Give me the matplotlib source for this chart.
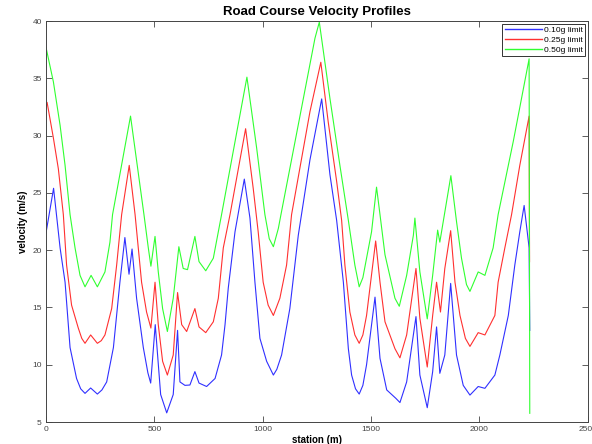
import matplotlib
matplotlib.use('Agg')
from matplotlib import pyplot as plt

plt.rcParams['font.family'] = ['Liberation Sans', 'DejaVu Sans']

# 0.10g limit
station_010 = [0, 35, 65, 88, 111, 141, 160, 180, 206, 237, 258, 280, 311, 341, 364, 383,
               397, 418, 449, 470, 483, 504, 529, 557, 587, 607, 618, 641, 664, 687, 706,
               741, 780, 810, 826, 841, 872, 915, 941, 964, 987, 1018, 1049, 1065, 1087,
               1125, 1164, 1218, 1272, 1310, 1341, 1372, 1395, 1410, 1428, 1445, 1462,
               1479, 1518, 1541, 1572, 1614, 1633, 1664, 1707, 1725, 1759, 1784, 1802,
               1817, 1840, 1867, 1894, 1925, 1956, 1994, 2025, 2071, 2094, 2133, 2163,
               2186, 2206, 2229, 2232]
vel_010 = [21.5, 25.4, 20.2, 17.2, 11.5, 8.8, 7.9, 7.5, 7.97, 7.44, 7.8, 8.5, 11.5, 17.2,
           21.1, 17.9, 20.1, 15.8, 11.5, 9.3, 8.4, 13.5, 7.4, 5.8, 7.4, 13.0, 8.5, 8.2,
           8.23, 9.4, 8.4, 8.1, 8.8, 10.85, 13.5, 16.7, 21.6, 26.2, 22.8, 17.2, 12.3, 10.3,
           9.1, 9.6, 10.85, 14.9, 21.3, 27.9, 33.2, 26.6, 22.6, 17.2, 11.4, 9.1, 7.9, 7.44,
           8.2, 10.0, 15.9, 10.56, 7.8, 7.07, 6.7, 8.5, 14.2, 9.1, 6.25, 9.4, 13.3, 9.25,
           10.85, 17.1, 10.85, 8.2, 7.35, 8.1, 7.94, 9.1, 10.85, 14.3, 18.7, 21.6, 23.9,
           20.2, 13.0]

# 0.25g limit
station_025 = [0, 5, 34, 57, 80, 95, 118, 149, 165, 180, 206, 237, 255, 272, 303, 326, 349,
               384, 411, 441, 464, 484, 503, 518, 538, 560, 587, 607, 626, 649, 687, 706,
               737, 772, 795, 818, 849, 921, 956, 979, 1002, 1025, 1049, 1079, 1110, 1133,
               1218, 1268, 1302, 1341, 1364, 1379, 1402, 1425, 1445, 1462, 1479, 1521,
               1541, 1564, 1610, 1633, 1664, 1707, 1725, 1759, 1784, 1802, 1820, 1840,
               1867, 1887, 1910, 1935, 1956, 1994, 2025, 2071, 2086, 2117, 2148, 2186,
               2229, 2231]
vel_025 = [32.6, 32.9, 29.8, 27.1, 23.1, 18.7, 15.2, 13.2, 12.3, 11.87, 12.6, 11.87, 12.1,
           12.6, 14.9, 18.7, 23.1, 27.4, 23.1, 17.2, 14.6, 13.2, 17.2, 13.5, 10.3, 9.1,
           10.85, 16.3, 13.5, 12.9, 14.9, 13.3, 12.8, 13.75, 15.8, 20.2, 23.1, 30.6, 25.4,
           21.6, 17.2, 15.2, 14.3, 15.8, 18.7, 23.1, 32.1, 36.4, 31.2, 26.0, 22.6, 18.7,
           14.6, 12.6, 11.87, 12.6, 14.3, 20.8, 17.2, 13.75, 11.4, 10.6, 12.6, 18.4, 14.05,
           9.8, 14.3, 17.2, 14.6, 18.4, 21.7, 17.2, 14.3, 12.3, 11.6, 12.8, 12.6, 14.3,
           17.2, 20.2, 23.1, 27.4, 31.7, 19.0]

# 0.50g limit
station_050 = [0, 34, 65, 88, 111, 134, 157, 180, 208, 237, 272, 295, 307, 390, 452,
               472, 484, 503, 518, 538, 560, 587, 613, 633, 653, 687, 706, 737, 772,
               795, 810, 927, 972, 1010, 1030, 1049, 1072, 1084, 1241, 1261, 1310, 1356,
               1395, 1425, 1445, 1462, 1479, 1502, 1525, 1541, 1564, 1610, 1630, 1664,
               1695, 1702, 1725, 1759, 1784, 1807, 1817, 1868, 1894, 1917, 1940, 1956,
               1994, 2025, 2063, 2086, 2156, 2229, 2232]
vel_050 = [37.7, 34.7, 30.9, 27.4, 23.1, 20.2, 17.8, 16.8, 17.8, 16.8, 18.1, 20.7, 23.1,
           31.7, 23.1, 20.2, 18.6, 21.2, 18.1, 14.9, 12.9, 15.8, 20.3, 18.4, 18.3, 21.2,
           19.0, 18.2, 19.3, 21.6, 23.1, 35.1, 28.9, 23.1, 21.0, 20.3, 21.9, 23.1, 38.5,
           39.9, 33.25, 27.4, 22.6, 18.7, 16.8, 17.6, 19.3, 21.6, 25.5, 23.1, 19.6, 15.8,
           15.1, 17.8, 21.3, 22.8, 18.1, 14.0, 17.8, 21.75, 20.7, 26.5, 22.5, 19.3, 17.0,
           16.4, 18.1, 17.8, 20.2, 23.1, 29.5, 36.7, 5.76]

fig = plt.figure(figsize=(5.92, 4.44), dpi=100)
ax = fig.add_axes([0.0777, 0.0495, 0.9153, 0.9032])

ax.plot(station_010, vel_010, color='#3030ff', lw=0.8, label='0.10g limit')
ax.plot(station_025, vel_025, color='#ff3030', lw=0.8, label='0.25g limit')
ax.plot(station_050, vel_050, color='#30ff30', lw=0.8, label='0.50g limit')

ax.set_xlim(0, 2500)
ax.set_ylim(5, 40)
ax.set_xticks([0, 500, 1000, 1500, 2000, 2500])
ax.set_yticks([5, 10, 15, 20, 25, 30, 35, 40])
ax.tick_params(direction='in', top=True, right=True, labelsize=6, length=4,
               width=0.6, colors='#444444', pad=3)
for s in ax.spines.values():
    s.set_linewidth(0.7)
    s.set_color('#444444')

ax.set_title('Road Course Velocity Profiles', fontsize=9.5, fontweight='bold', pad=4)
ax.set_xlabel('station (m)', fontsize=7, fontweight='bold', labelpad=1)
ax.set_ylabel('velocity (m/s)', fontsize=7, fontweight='bold', labelpad=3)

leg = ax.legend(loc='upper right', fontsize=6, fancybox=False, framealpha=1,
                edgecolor='#333333', handlelength=4.5, borderaxespad=0.3,
                labelspacing=0.25, handletextpad=0.2, borderpad=0.3)
leg.get_frame().set_linewidth(0.7)
for line in leg.get_lines():
    line.set_linewidth(1.0)

fig.savefig('out.png', dpi=100)
